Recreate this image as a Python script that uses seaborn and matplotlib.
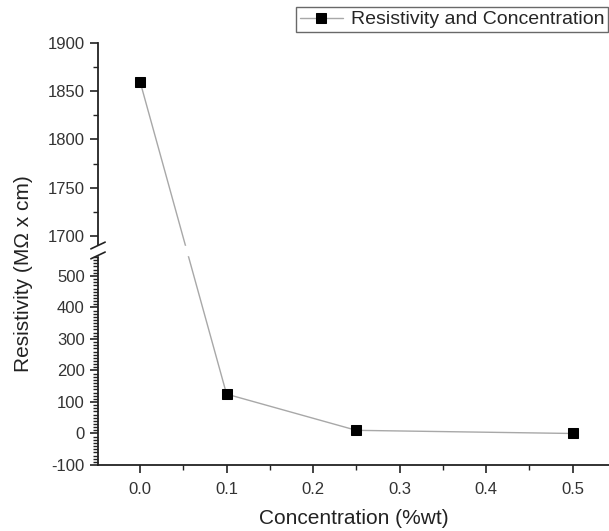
import matplotlib
matplotlib.use("Agg")
import matplotlib.pyplot as plt
import numpy as np
import pandas as pd
import seaborn as sb
from matplotlib.ticker import FixedLocator

# date
concentratie = [0.0, 0.1, 0.25, 0.5]
rezistivitate = [1860, 125, 10, 0]
eticheta = "Resistivity and Concentration"

df = pd.DataFrame({"Concentration": concentratie, "Resistivity": rezistivitate})

# axa rupta: segmentul de jos -100..565, segmentul de sus 1690..1900
lo_top, hi_bot = 565.0, 1690.0
gap = 31.5
k_hi = 3.06


def fwd(v):
    v = np.asarray(v, dtype=float)
    return np.where(v <= lo_top, v,
                    np.where(v < hi_bot, lo_top + (v - lo_top) / (hi_bot - lo_top) * gap,
                             lo_top + gap + (v - hi_bot) * k_hi))


def inv(t):
    t = np.asarray(t, dtype=float)
    return np.where(t <= lo_top, t,
                    np.where(t < lo_top + gap, lo_top + (t - lo_top) / gap * (hi_bot - lo_top),
                             hi_bot + (t - lo_top - gap) / k_hi))


sb.set_style("ticks")
plt.rcParams["font.family"] = ["Liberation Sans", "DejaVu Sans"]

fig = plt.figure(figsize=(6.09, 5.31), dpi=100)
ax = fig.add_axes([98 / 609, 66 / 531, 511 / 609, 422 / 531])
ax.set_yscale("function", functions=(fwd, inv))

sb.lineplot(data=df, x="Concentration", y="Resistivity", ax=ax, color="#a8a8a8",
            linewidth=1, marker="s", markersize=6.5, markerfacecolor="black",
            markeredgecolor="black", label=eticheta, zorder=4)

ax.set_xlim(-0.0486, 0.542)
ax.set_ylim(-100, 1900)

# banda alba peste ruptura
ax.axhspan(lo_top, hi_bot, xmin=-0.01, xmax=1, color="white", zorder=5, clip_on=False)

t0, t1 = fwd(-100), fwd(1900)
for v in (lo_top, hi_bot):
    f = (fwd(v) - t0) / (t1 - t0)
    ax.plot([-0.014, 0.014], [f - 0.008, f + 0.008], transform=ax.transAxes,
            color="#222222", lw=1.2, clip_on=False, zorder=6)

major = list(range(-100, 501, 100)) + list(range(1700, 1901, 50))
minor = [v for v in range(-100, 561, 10) if v % 100 != 0] + [1725, 1775, 1825, 1875]
ax.yaxis.set_major_locator(FixedLocator(major))
ax.yaxis.set_minor_locator(FixedLocator(minor))
ax.set_yticklabels([str(v) for v in major])
ax.set_xticks([0.0, 0.1, 0.2, 0.3, 0.4, 0.5])
ax.set_xticklabels(["0.0", "0.1", "0.2", "0.3", "0.4", "0.5"])
ax.xaxis.set_minor_locator(FixedLocator([0.05, 0.15, 0.25, 0.35, 0.45]))

ax.tick_params(axis="both", which="major", direction="out", length=6, width=1.2,
               colors="#222222", labelsize=12, labelcolor="#333333")
ax.tick_params(axis="x", which="major", pad=6)
ax.tick_params(axis="both", which="minor", direction="out", length=3.5, width=1,
               colors="#222222")

sb.despine(ax=ax)
for s in ("left", "bottom"):
    ax.spines[s].set_color("#222222")
    ax.spines[s].set_linewidth(1.3)

ax.set_xlabel("Concentration (%wt)", fontsize=15, color="#222222", labelpad=9)
ax.set_ylabel("Resistivity (M\u03a9 x cm)", fontsize=15, color="#222222")
ax.yaxis.set_label_coords(-0.128, 0.453)

leg = ax.legend(loc="upper right", bbox_to_anchor=(608 / 609, 1 - 7 / 531),
                bbox_transform=fig.transFigure, frameon=True, fancybox=False,
                fontsize=14, handlelength=2.2, handletextpad=0.4, borderpad=0.2,
                borderaxespad=0)
leg.get_frame().set_edgecolor("#444444")
leg.get_frame().set_linewidth(1)

fig.savefig("out.png", dpi=100)
